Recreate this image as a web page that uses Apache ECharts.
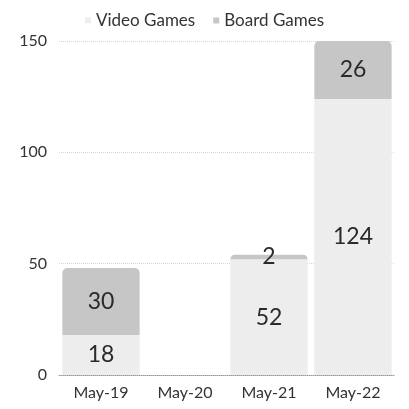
<!DOCTYPE html>
<html>
<head>
<meta charset="utf-8">
<script src="https://cdn.jsdelivr.net/npm/echarts@6/dist/echarts.min.js"></script>
<style>
  html, body { margin: 0; padding: 0; background: #fff; }
  #chart { width: 409px; height: 409px; }
</style>
</head>
<body>
<div id="chart"></div>
<script>
// Monthly counts for two game categories, stacked
const categories = ['May-19', 'May-20', 'May-21', 'May-22'];
const videoGames = [18, 0, 52, 124];
const boardGames = [30, 0, 2, 26];
const yTicks = [0, 50, 100, 150];

const font = 'Lato, "Noto Sans", sans-serif';
const labelStyle = {
  show: true,
  position: 'inside',
  color: '#2a2a2a',
  fontSize: 23,
  fontFamily: font,
  formatter: p => (p.value === 0 ? '' : p.value)
};

const chart = echarts.init(document.getElementById('chart'));
chart.setOption({
  animation: false,
  legend: {
    top: 7,
    left: 'center',
    itemWidth: 6,
    itemHeight: 6,
    itemGap: 18,
    icon: 'rect',
    textStyle: { fontSize: 17, color: '#333', fontFamily: font },
    data: ['Video Games', 'Board Games']
  },
  grid: { left: 59, right: 14, top: 41, bottom: 34 },
  xAxis: {
    type: 'category',
    data: categories,
    axisTick: { show: false },
    axisLine: { lineStyle: { color: '#9a9a9a', type: 'dotted', width: 1 } },
    axisLabel: { fontSize: 16, color: '#333', fontFamily: font, margin: 10 }
  },
  yAxis: {
    type: 'value',
    min: yTicks[0],
    max: yTicks[yTicks.length - 1],
    interval: 50,
    axisLabel: { fontSize: 16, color: '#333', fontFamily: font, margin: 12 },
    splitLine: { lineStyle: { color: '#d4d4d4', type: 'dotted' } }
  },
  series: [
    {
      name: 'Video Games',
      type: 'bar',
      stack: 'games',
      barWidth: '92%',
      data: videoGames,
      itemStyle: { color: '#ededed', borderRadius: [0, 0, 0, 0] },
      label: labelStyle
    },
    {
      name: 'Board Games',
      type: 'bar',
      stack: 'games',
      barWidth: '92%',
      data: boardGames,
      itemStyle: { color: '#c6c6c6', borderRadius: [5, 5, 0, 0] },
      label: labelStyle
    }
  ]
});
</script>
</body>
</html>
